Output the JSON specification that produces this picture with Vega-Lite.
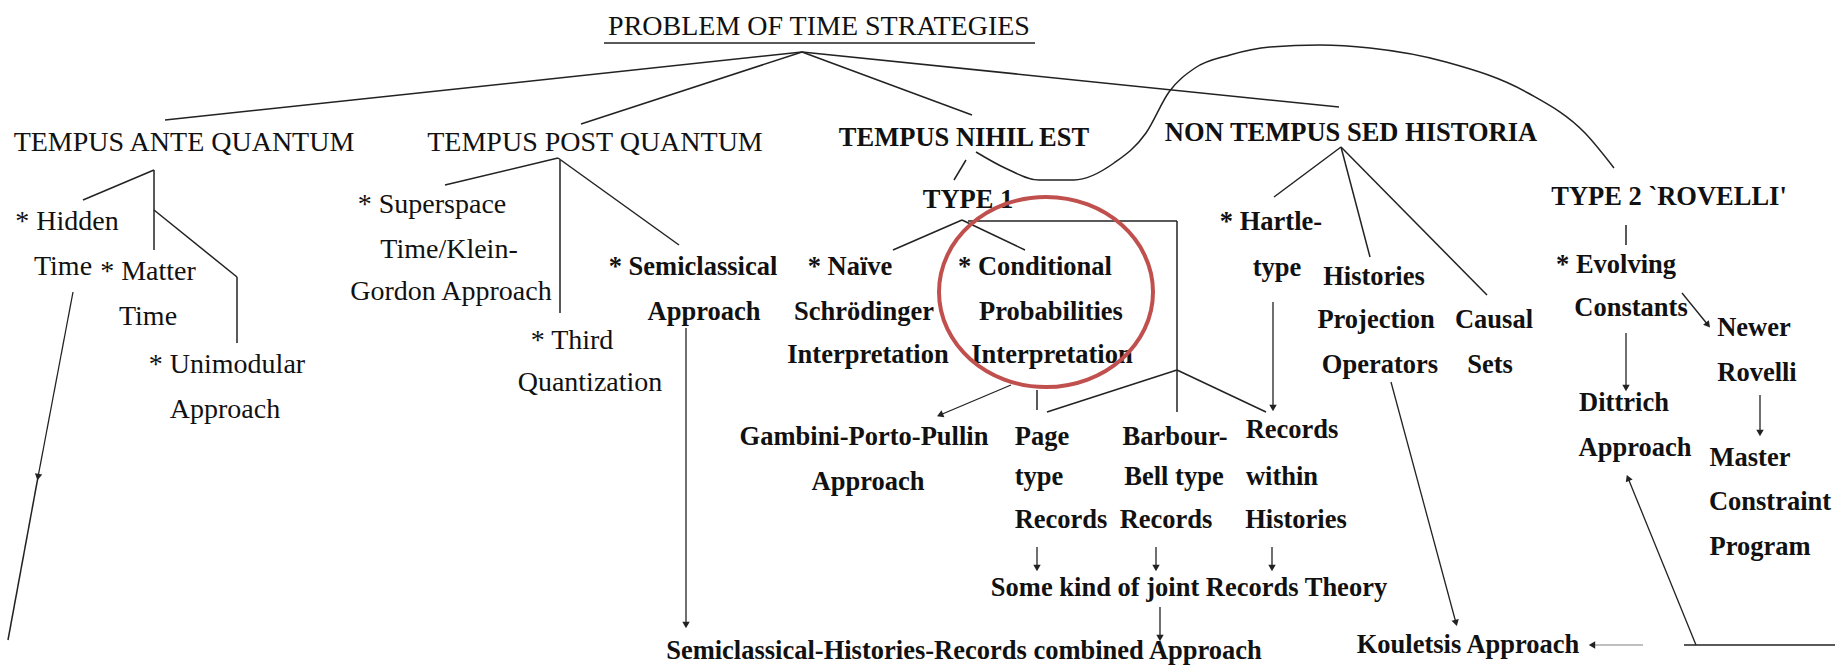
{
  "$schema": "https://vega.github.io/schema/vega-lite/v6.json",
  "width": 1843,
  "height": 669,
  "autosize": {"type": "fit", "contains": "padding"},
  "padding": 0,
  "background": "white",
  "config": {"view": {"stroke": null}},
  "datasets": {
    "title": [{"x": 819, "y": 27, "t": "PROBLEM OF TIME STRATEGIES"}],
    "textA": [
      {"x": 184, "y": 143, "t": "TEMPUS ANTE QUANTUM"},
      {"x": 595, "y": 143, "t": "TEMPUS POST QUANTUM"},
      {"x": 67, "y": 222, "t": "* Hidden"},
      {"x": 63, "y": 267, "t": "Time"},
      {"x": 148, "y": 272, "t": "* Matter"},
      {"x": 148, "y": 317, "t": "Time"},
      {"x": 227, "y": 365, "t": "* Unimodular"},
      {"x": 225, "y": 410, "t": "Approach"},
      {"x": 432, "y": 205, "t": "* Superspace"},
      {"x": 449, "y": 250, "t": "Time/Klein-"},
      {"x": 451, "y": 292, "t": "Gordon Approach"},
      {"x": 572, "y": 341, "t": "* Third"},
      {"x": 590, "y": 383, "t": "Quantization"}
    ],
    "textB": [
      {"x": 964, "y": 138, "t": "TEMPUS NIHIL EST"},
      {"x": 1351, "y": 133, "t": "NON TEMPUS SED HISTORIA"},
      {"x": 968, "y": 200, "t": "TYPE 1"},
      {"x": 1669, "y": 197, "t": "TYPE 2 `ROVELLI'"},
      {"x": 693, "y": 267, "t": "* Semiclassical"},
      {"x": 704, "y": 312, "t": "Approach"},
      {"x": 850, "y": 267, "t": "* Naïve"},
      {"x": 864, "y": 312, "t": "Schrödinger"},
      {"x": 868, "y": 355, "t": "Interpretation"},
      {"x": 1035, "y": 267, "t": "* Conditional"},
      {"x": 1051, "y": 312, "t": "Probabilities"},
      {"x": 1052, "y": 355, "t": "Interpretation"},
      {"x": 864, "y": 437, "t": "Gambini-Porto-Pullin"},
      {"x": 868, "y": 482, "t": "Approach"},
      {"x": 1042, "y": 437, "t": "Page"},
      {"x": 1039, "y": 477, "t": "type"},
      {"x": 1061, "y": 520, "t": "Records"},
      {"x": 1175, "y": 437, "t": "Barbour-"},
      {"x": 1174, "y": 477, "t": "Bell type"},
      {"x": 1166, "y": 520, "t": "Records"},
      {"x": 1292, "y": 430, "t": "Records"},
      {"x": 1282, "y": 477, "t": "within"},
      {"x": 1296, "y": 520, "t": "Histories"},
      {"x": 1189, "y": 588, "t": "Some kind of joint Records Theory"},
      {"x": 964, "y": 651, "t": "Semiclassical-Histories-Records combined Approach"},
      {"x": 1271, "y": 222, "t": "* Hartle-"},
      {"x": 1277, "y": 268, "t": "type"},
      {"x": 1374, "y": 277, "t": "Histories"},
      {"x": 1376, "y": 320, "t": "Projection"},
      {"x": 1380, "y": 365, "t": "Operators"},
      {"x": 1494, "y": 320, "t": "Causal"},
      {"x": 1490, "y": 365, "t": "Sets"},
      {"x": 1616, "y": 265, "t": "* Evolving"},
      {"x": 1631, "y": 308, "t": "Constants"},
      {"x": 1754, "y": 328, "t": "Newer"},
      {"x": 1757, "y": 373, "t": "Rovelli"},
      {"x": 1624, "y": 403, "t": "Dittrich"},
      {"x": 1635, "y": 448, "t": "Approach"},
      {"x": 1750, "y": 458, "t": "Master"},
      {"x": 1770, "y": 502, "t": "Constraint"},
      {"x": 1760, "y": 547, "t": "Program"},
      {"x": 1468, "y": 645, "t": "Kouletsis Approach"}
    ],
    "lines": [
      {"x": 802, "y": 52, "x2": 165, "y2": 120},
      {"x": 802, "y": 52, "x2": 581, "y2": 124},
      {"x": 802, "y": 52, "x2": 972, "y2": 115},
      {"x": 802, "y": 52, "x2": 1339, "y2": 107},
      {"x": 604, "y": 43, "x2": 1035, "y2": 43},
      {"x": 154, "y": 170, "x2": 83, "y2": 200},
      {"x": 154, "y": 170, "x2": 154, "y2": 250},
      {"x": 154, "y": 210, "x2": 237, "y2": 277},
      {"x": 237, "y": 277, "x2": 237, "y2": 343},
      {"x": 38, "y": 477, "x2": 8, "y2": 640},
      {"x": 558, "y": 158, "x2": 445, "y2": 185},
      {"x": 560, "y": 160, "x2": 560, "y2": 313},
      {"x": 558, "y": 158, "x2": 679, "y2": 245},
      {"x": 966, "y": 160, "x2": 954, "y2": 180},
      {"x": 962, "y": 220, "x2": 893, "y2": 250},
      {"x": 962, "y": 220, "x2": 1025, "y2": 250},
      {"x": 968, "y": 221, "x2": 1177, "y2": 221},
      {"x": 1177, "y": 221, "x2": 1177, "y2": 412},
      {"x": 1177, "y": 370, "x2": 1047, "y2": 412},
      {"x": 1177, "y": 370, "x2": 1266, "y2": 412},
      {"x": 1037, "y": 390, "x2": 1037, "y2": 410},
      {"x": 1341, "y": 147, "x2": 1274, "y2": 197},
      {"x": 1341, "y": 147, "x2": 1370, "y2": 257},
      {"x": 1341, "y": 147, "x2": 1487, "y2": 295},
      {"x": 1626, "y": 225, "x2": 1626, "y2": 245},
      {"x": 1684, "y": 645, "x2": 1835, "y2": 645}
    ],
    "arrows": [
      {"x": 73, "y": 292, "x2": 38, "y2": 477},
      {"x": 686, "y": 328, "x2": 686, "y2": 625},
      {"x": 1011, "y": 385, "x2": 940, "y2": 415},
      {"x": 1037, "y": 547, "x2": 1037, "y2": 568},
      {"x": 1156, "y": 547, "x2": 1156, "y2": 568},
      {"x": 1272, "y": 547, "x2": 1272, "y2": 568},
      {"x": 1160, "y": 607, "x2": 1160, "y2": 638},
      {"x": 1273, "y": 302, "x2": 1273, "y2": 408},
      {"x": 1391, "y": 382, "x2": 1456, "y2": 623},
      {"x": 1696, "y": 645, "x2": 1628, "y2": 478},
      {"x": 1682, "y": 293, "x2": 1708, "y2": 325},
      {"x": 1626, "y": 333, "x2": 1626, "y2": 388},
      {"x": 1760, "y": 395, "x2": 1760, "y2": 433}
    ],
    "grayArrow": [{"x": 1643, "y": 645, "x2": 1592, "y2": 645}],
    "curve": [
      {"x": 976, "y": 152}, {"x": 1005, "y": 168}, {"x": 1039, "y": 180},
      {"x": 1074, "y": 180}, {"x": 1114, "y": 163}, {"x": 1146, "y": 133},
      {"x": 1169, "y": 92}, {"x": 1195, "y": 68}, {"x": 1230, "y": 55},
      {"x": 1270, "y": 47}, {"x": 1320, "y": 45}, {"x": 1370, "y": 48},
      {"x": 1446, "y": 62}, {"x": 1528, "y": 93}, {"x": 1585, "y": 133},
      {"x": 1614, "y": 168}
    ],
    "highlight": [{"x": 1046, "y": 292}]
  },
  "layer": [
    {
      "data": {"name": "lines"},
      "mark": {"type": "rule", "color": "#222222", "strokeWidth": 1.5},
      "encoding": {
        "x": {"field": "x", "type": "quantitative", "scale": {"domain": [0, 1843], "nice": false, "zero": false}, "axis": null},
        "y": {"field": "y", "type": "quantitative", "scale": {"domain": [0, 669], "nice": false, "zero": false, "reverse": true}, "axis": null},
        "x2": {"field": "x2"},
        "y2": {"field": "y2"}
      }
    },
    {
      "data": {"name": "arrows"},
      "mark": {"type": "rule", "color": "#222222", "strokeWidth": 1.3},
      "encoding": {
        "x": {"field": "x", "type": "quantitative", "scale": {"domain": [0, 1843], "nice": false, "zero": false}, "axis": null},
        "y": {"field": "y", "type": "quantitative", "scale": {"domain": [0, 669], "nice": false, "zero": false, "reverse": true}, "axis": null},
        "x2": {"field": "x2"},
        "y2": {"field": "y2"}
      }
    },
    {
      "data": {"name": "arrows"},
      "transform": [{"calculate": "-atan2(datum.x2 - datum.x, datum.y2 - datum.y) * 180 / PI", "as": "ang"}],
      "mark": {"type": "point", "shape": "triangle-down", "filled": true, "color": "#222222", "size": 55, "opacity": 1},
      "encoding": {
        "x": {"field": "x2", "type": "quantitative", "scale": {"domain": [0, 1843], "nice": false, "zero": false}, "axis": null},
        "y": {"field": "y2", "type": "quantitative", "scale": {"domain": [0, 669], "nice": false, "zero": false, "reverse": true}, "axis": null},
        "angle": {"field": "ang", "type": "quantitative", "scale": null}
      }
    },
    {
      "data": {"name": "grayArrow"},
      "mark": {"type": "rule", "color": "#aaaaaa", "strokeWidth": 1.5},
      "encoding": {
        "x": {"field": "x", "type": "quantitative", "scale": {"domain": [0, 1843], "nice": false, "zero": false}, "axis": null},
        "y": {"field": "y", "type": "quantitative", "scale": {"domain": [0, 669], "nice": false, "zero": false, "reverse": true}, "axis": null},
        "x2": {"field": "x2"},
        "y2": {"field": "y2"}
      }
    },
    {
      "data": {"name": "grayArrow"},
      "transform": [{"calculate": "-atan2(datum.x2 - datum.x, datum.y2 - datum.y) * 180 / PI", "as": "ang"}],
      "mark": {"type": "point", "shape": "triangle-down", "filled": true, "color": "#222222", "size": 55, "opacity": 1},
      "encoding": {
        "x": {"field": "x2", "type": "quantitative", "scale": {"domain": [0, 1843], "nice": false, "zero": false}, "axis": null},
        "y": {"field": "y2", "type": "quantitative", "scale": {"domain": [0, 669], "nice": false, "zero": false, "reverse": true}, "axis": null},
        "angle": {"field": "ang", "type": "quantitative", "scale": null}
      }
    },
    {
      "data": {"name": "curve"},
      "mark": {"type": "line", "color": "#222222", "strokeWidth": 1.5, "interpolate": "monotone"},
      "encoding": {
        "x": {"field": "x", "type": "quantitative", "scale": {"domain": [0, 1843], "nice": false, "zero": false}, "axis": null},
        "y": {"field": "y", "type": "quantitative", "scale": {"domain": [0, 669], "nice": false, "zero": false, "reverse": true}, "axis": null}
      }
    },
    {
      "data": {"name": "title"},
      "mark": {"type": "text", "font": "Liberation Serif", "fontSize": 28, "color": "#111111", "align": "center", "baseline": "middle"},
      "encoding": {
        "x": {"field": "x", "type": "quantitative", "scale": {"domain": [0, 1843], "nice": false, "zero": false}, "axis": null},
        "y": {"field": "y", "type": "quantitative", "scale": {"domain": [0, 669], "nice": false, "zero": false, "reverse": true}, "axis": null},
        "text": {"field": "t"}
      }
    },
    {
      "data": {"name": "textA"},
      "mark": {"type": "text", "font": "Liberation Serif", "fontSize": 28, "color": "#111111", "align": "center", "baseline": "middle"},
      "encoding": {
        "x": {"field": "x", "type": "quantitative", "scale": {"domain": [0, 1843], "nice": false, "zero": false}, "axis": null},
        "y": {"field": "y", "type": "quantitative", "scale": {"domain": [0, 669], "nice": false, "zero": false, "reverse": true}, "axis": null},
        "text": {"field": "t"}
      }
    },
    {
      "data": {"name": "textB"},
      "mark": {"type": "text", "font": "Liberation Serif", "fontSize": 26.5, "fontWeight": "bold", "color": "#111111", "align": "center", "baseline": "middle"},
      "encoding": {
        "x": {"field": "x", "type": "quantitative", "scale": {"domain": [0, 1843], "nice": false, "zero": false}, "axis": null},
        "y": {"field": "y", "type": "quantitative", "scale": {"domain": [0, 669], "nice": false, "zero": false, "reverse": true}, "axis": null},
        "text": {"field": "t"}
      }
    },
    {
      "data": {"name": "highlight"},
      "mark": {"type": "point", "shape": "M 1 0 C 1 0.49 0.552 0.888 0 0.888 C -0.552 0.888 -1 0.49 -1 0 C -1 -0.49 -0.552 -0.888 0 -0.888 C 0.552 -0.888 1 -0.49 1 0 Z", "filled": false, "stroke": "#c0504d", "strokeWidth": 4, "size": 45796, "opacity": 1},
      "encoding": {
        "x": {"field": "x", "type": "quantitative", "scale": {"domain": [0, 1843], "nice": false, "zero": false}, "axis": null},
        "y": {"field": "y", "type": "quantitative", "scale": {"domain": [0, 669], "nice": false, "zero": false, "reverse": true}, "axis": null}
      }
    }
  ]
}
